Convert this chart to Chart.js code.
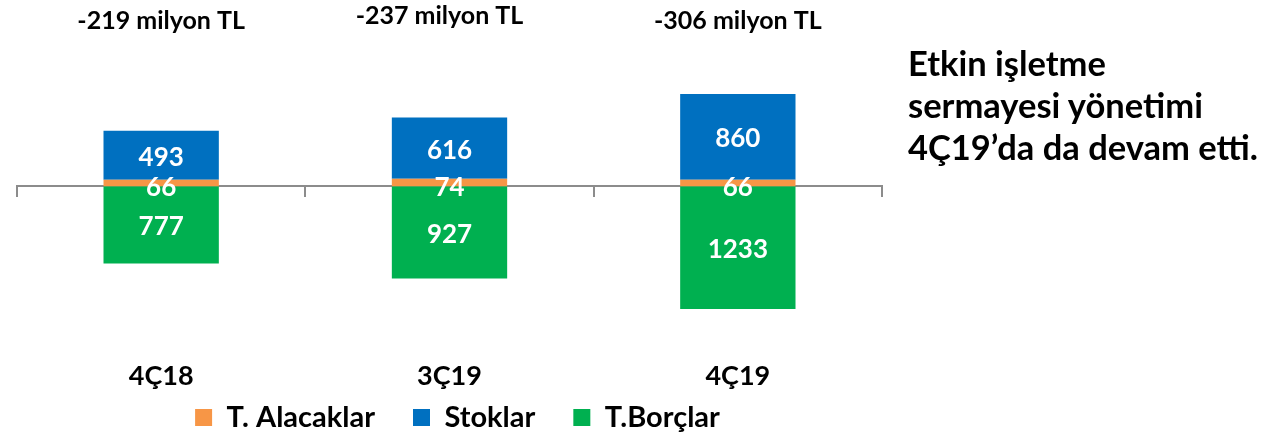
<!DOCTYPE html>
<html>
<head>
<meta charset="utf-8">
<script src="https://cdn.jsdelivr.net/npm/chart.js@4.4.1/dist/chart.umd.min.js"></script>
<style>
    html, body { margin: 0; padding: 0; background: #fff; }
    #wrap { position: relative; width: 1275px; height: 438px; }
    #note {
        position: absolute; left: 908px; top: 42px;
        font: bold 34.5px Lato, sans-serif; line-height: 42px; color: #000;
    }
</style>
</head>
<body>
<div id="wrap">
    <canvas id="workingCapital" width="1275" height="438"></canvas>
    <div id="note">Etkin işletme<br>sermayesi yönetimi<br>4Ç19’da da devam etti.</div>
</div>
<script>
var categories = ['4Ç18', '3Ç19', '4Ç19'];
var alacaklar = [66, 74, 66];
var stoklar = [493, 616, 860];
var borclar = [-777, -927, -1233];
var netLabels = ['-219 milyon TL', '-237 milyon TL', '-306 milyon TL'];

// white numbers inside the bars
var valueLabels = {
    id: 'valueLabels',
    afterDatasetsDraw: function (chart) {
        var c = chart.ctx;
        c.save();
        c.font = 'bold 26px Lato';
        c.fillStyle = '#fff';
        c.textAlign = 'center';
        c.textBaseline = 'middle';
        chart.data.datasets.forEach(function (ds, i) {
            chart.getDatasetMeta(i).data.forEach(function (bar, j) {
                var y = (bar.y + bar.base) / 2 + (i === 0 ? 5 : 2);
                c.fillText(Math.abs(ds.data[j]), bar.x, y);
            });
        });
        c.restore();
    }
};

// net totals above each column and category names far below the axis
var outerLabels = {
    id: 'outerLabels',
    afterDraw: function (chart) {
        var c = chart.ctx;
        var xs = chart.scales.x;
        var nudge = [[0, 0], [-10, -5], [0, 0]];
        c.save();
        c.fillStyle = '#000';
        c.textAlign = 'center';
        c.textBaseline = 'middle';
        c.font = 'bold 25px Lato';
        netLabels.forEach(function (t, j) {
            c.fillText(t, xs.getPixelForValue(j) + nudge[j][0], 21 + nudge[j][1]);
        });
        c.font = 'bold 27px Lato';
        categories.forEach(function (t, j) {
            c.fillText(t, xs.getPixelForValue(j), 376);
        });
        c.restore();
    }
};

// legend sits a bit right of the plot centre in the original
var legendShift = {
    id: 'legendShift',
    afterLayout: function (chart) {
        chart.legend.left += 16;
    }
};

var ctx = document.getElementById('workingCapital').getContext('2d');
var chart = new Chart(ctx, {
    type: 'bar',
    data: {
        labels: categories,
        datasets: [{
            label: 'T. Alacaklar',
            data: alacaklar,
            backgroundColor: '#F79646'
        }, {
            label: 'Stoklar',
            data: stoklar,
            backgroundColor: '#0070C0'
        }, {
            label: 'T.Borçlar',
            data: borclar,
            backgroundColor: '#00B050'
        }]
    },
    options: {
        responsive: false,
        animation: false,
        layout: { padding: { left: 17, right: 393, top: 40, bottom: -4 } },
        datasets: { bar: { categoryPercentage: 1, barPercentage: 0.4 } },
        scales: {
            x: {
                stacked: true,
                position: { y: 0 },
                grid: { drawOnChartArea: false, drawTicks: true, tickLength: 10, color: '#8c8c8c', lineWidth: 2 },
                border: { display: true, color: '#8c8c8c', width: 2 },
                ticks: { display: false }
            },
            y: {
                stacked: true,
                display: false,
                min: -1797,
                max: 1470
            }
        },
        plugins: {
            tooltip: { enabled: false },
            legend: {
                position: 'bottom',
                labels: {
                    boxWidth: 17,
                    boxHeight: 17,
                    padding: 38,
                    color: '#000',
                    font: { family: 'Lato', size: 29, weight: 'bold' }
                }
            }
        }
    },
    plugins: [valueLabels, outerLabels, legendShift]
});
</script>
</body>
</html>
